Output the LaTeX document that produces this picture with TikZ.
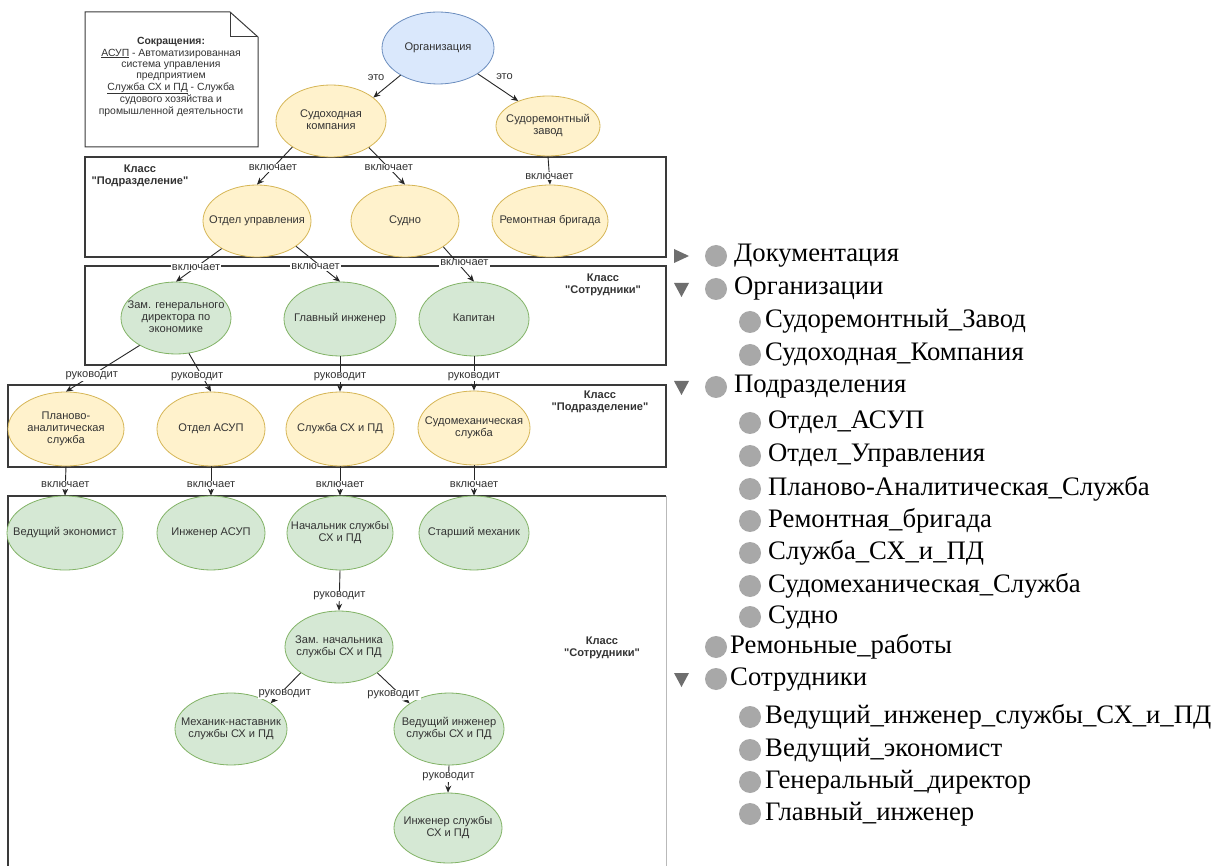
\documentclass[tikz,border=0pt]{standalone}
\usepackage{fontspec}
\setmainfont{Liberation Sans}[Ligatures=TeXOff]
\newfontfamily\treefont{Liberation Serif}
\usetikzlibrary{shapes.geometric,arrows.meta}

\definecolor{bfill}{HTML}{DAE8FC}\definecolor{bdraw}{HTML}{6C8EBF}
\definecolor{yfill}{HTML}{FFF2CC}\definecolor{ydraw}{HTML}{D6B656}
\definecolor{gfill}{HTML}{D5E8D4}\definecolor{gdraw}{HTML}{82B366}
\definecolor{txt}{HTML}{333333}
\definecolor{lnc}{HTML}{262626}
\definecolor{mk}{HTML}{A8A8A8}
\definecolor{tri}{HTML}{6E6E6E}
\definecolor{boxc}{HTML}{3A3A3A}

\newcommand{\ET}[1]{\makebox[0pt]{\begin{tabular}{@{}c@{}}#1\end{tabular}}}
\newcommand{\dfont}{\fontsize{11.1}{11.8}\selectfont}

\begin{document}
\begin{tikzpicture}[x=1pt,y=-1pt,
  ell/.style={ellipse, draw, line width=0.8pt, inner sep=0pt, font=\dfont, text=txt},
  blu/.style={ell, fill=bfill, draw=bdraw},
  yel/.style={ell, fill=yfill, draw=ydraw},
  grn/.style={ell, fill=gfill, draw=gdraw},
  wh/.style 2 args={minimum width=#1pt, minimum height=#2pt},
  classbox/.style={draw=boxc, line width=1.2pt},
  clab/.style={font=\dfont\bfseries, align=center, text=txt, inner sep=0pt},
  elab/.style={font=\dfont, fill=white, inner sep=1pt, text=txt},
  con/.style={draw=lnc, line width=0.9pt, -{Stealth[length=7pt,width=6pt]}},
  tr/.style={font=\treefont\fontsize{26.7}{30}\selectfont, anchor=west, inner sep=0pt, text height=18pt, text depth=6pt},
  dot/.style={circle, fill=mk, minimum size=22pt, inner sep=0pt},
]
\useasboundingbox (0,0) rectangle (1216,866);
\fill[white] (0,0) rectangle (1216,866);

% note
\draw[draw=boxc, line width=1pt, fill=white] (85,12) -- (230,12) -- (258,37) -- (258,147) -- (85,147) -- cycle;
\draw[draw=boxc, line width=1pt] (230,12) -- (230,37) -- (258,37);
\node[font=\fontsize{10.4}{11.3}\selectfont, align=center, text=txt, inner sep=0pt] (note) at (171,77)
 {\textbf{Сокращения:}\\ \underline{АСУП} - Автоматизированная\\ система управления\\ предприятием\\ \underline{Служба СХ и ПД} - Служба\\ судового хозяйства и\\ промышленной деятельности};

% class boxes
\draw[classbox] (85,157) rectangle (666,257);
\draw[classbox] (85,266) rectangle (666,365);
\draw[classbox] (8,385) rectangle (666,467);
\draw[draw=boxc, line width=1.4pt] (8,866) -- (8,496) -- (666,496);
\draw[draw=gray!55, line width=1pt] (666,496) -- (666,866);

\node[clab] (cl1) at (140,176) {Класс\\"Подразделение"};
\node[clab] (cl2) at (603,285) {Класс\\"Сотрудники"};
\node[clab] (cl3) at (600,402) {Класс\\"Подразделение"};
\node[clab] (cl4) at (602,648) {Класс\\"Сотрудники"};

% nodes
\node[blu, wh={112}{72}] (org) at (438,48) {\ET{Организация}};
\node[yel, wh={110}{72}] (sk) at (331,121) {\ET{Судоходная\\компания}};
\node[yel, wh={104}{60}] (sz) at (548,126) {\ET{Судоремонтный\\завод}};

\node[yel, wh={108}{72}] (ou) at (257,221) {\ET{Отдел управления}};
\node[yel, wh={108}{72}] (su) at (405,221) {\ET{Судно}};
\node[yel, wh={116}{72}] (rb) at (550,221) {\ET{Ремонтная бригада}};

\node[grn, wh={110}{72}] (zg) at (176,318) {\ET{Зам. генерального\\директора по\\экономике}};
\node[grn, wh={112}{74}] (gi) at (340,319) {\ET{Главный инженер}};
\node[grn, wh={110}{74}] (kp) at (474,319) {\ET{Капитан}};

\node[yel, wh={116}{74}] (pa) at (66,429) {\ET{Планово-\\аналитическая\\служба}};
\node[yel, wh={108}{74}] (oa) at (211,429) {\ET{Отдел АСУП}};
\node[yel, wh={108}{74}] (sx) at (340,429) {\ET{Служба СХ и ПД}};
\node[yel, wh={112}{74}] (sm) at (474,428) {\ET{Судомеханическая\\служба}};

\node[grn, wh={116}{74}] (ve) at (65,533) {\ET{Ведущий экономист}};
\node[grn, wh={108}{74}] (ia) at (211,533) {\ET{Инженер АСУП}};
\node[grn, wh={106}{74}] (ns) at (340,533) {\ET{Начальник службы\\СХ и ПД}};
\node[grn, wh={110}{74}] (stm) at (474,533) {\ET{Старший механик}};

\node[grn, wh={108}{72}] (zn) at (339,647) {\ET{Зам. начальника\\службы СХ и ПД}};
\node[grn, wh={112}{72}] (mn) at (231,729) {\ET{Механик-наставник\\службы СХ и ПД}};
\node[grn, wh={110}{72}] (vi) at (449,729) {\ET{Ведущий инженер\\службы СХ и ПД}};
\node[grn, wh={108}{70}] (is) at (448,828) {\ET{Инженер службы\\СХ и ПД}};

% connectors
\draw[con] (org.216) -- node[elab, pos=0.1, left=12pt]{это} (sk.29);
\draw[con] (org.327) -- node[elab, pos=0.1, right=13pt]{это} (sz.140);
\draw[con] (sk.214) -- node[elab, pos=0.55]{включает} (ou.north);
\draw[con] (sk.325) -- node[elab, pos=0.55]{включает} (su.north);
\draw[con] (sz.south) -- node[elab, pos=0.7]{включает} (rb.north);

\draw[con] (ou.218) -- node[elab, pos=0.56]{включает} (zg.north);
\draw[con] (ou.327) -- node[elab, pos=0.58, xshift=-6pt]{включает} (gi.north);
\draw[con] (su.326) -- node[elab, pos=0.46, xshift=7pt]{включает} (kp.north);

\draw[con] (zg.217) -- node[elab, pos=0.65]{руководит} (pa.north);
\draw[con] (zg.290) -- node[elab, pos=0.6, xshift=-5pt]{руководит} (oa.north);
\draw[con] (gi.south) -- node[elab, pos=0.58]{руководит} (sx.north);
\draw[con] (kp.south) -- node[elab, pos=0.58]{руководит} (sm.north);

\draw[con] (pa.south) -- node[elab, pos=0.63]{включает} (ve.north);
\draw[con] (oa.south) -- node[elab, pos=0.63]{включает} (ia.north);
\draw[con] (sx.south) -- node[elab, pos=0.63]{включает} (ns.north);
\draw[con] (sm.south) -- node[elab, pos=0.63]{включает} (stm.north);

\draw[con] (ns.south) -- node[elab, pos=0.63]{руководит} (zn.north);
\draw[con] (zn.214) -- node[elab, pos=0.7, xshift=5pt]{руководит} (mn.33);
\draw[con] (zn.326) -- node[elab, pos=0.72, xshift=-7pt]{руководит} (vi.147);
\draw[con] (vi.south) -- node[elab, pos=0.43]{руководит} (is.north);

% tree (right)
\fill[tri] (674,249) -- (689,256) -- (674,263) -- cycle;
\fill[tri] (674,283) -- (689,283) -- (681.5,297) -- cycle;
\fill[tri] (674,381) -- (689,381) -- (681.5,395) -- cycle;
\fill[tri] (674,673) -- (689,673) -- (681.5,687) -- cycle;

\node[dot] (d1) at (716,256) {};
\node[tr] (t1) at (734,256) {Документация};
\node[dot] (d2) at (716,289) {};
\node[tr] (t2) at (734,289) {Организации};
\node[dot] (d3) at (750,322) {};
\node[tr] (t3) at (765,322) {Судоремонтный\_Завод};
\node[dot] (d4) at (750,355) {};
\node[tr] (t4) at (765,355) {Судоходная\_Компания};
\node[dot] (d5) at (716,387) {};
\node[tr] (t5) at (734,387) {Подразделения};
\node[dot] (d6) at (750,423) {};
\node[tr] (t6) at (768,423) {Отдел\_АСУП};
\node[dot] (d7) at (750,456) {};
\node[tr] (t7) at (768,456) {Отдел\_Управления};
\node[dot] (d8) at (750,489) {};
\node[tr] (t8) at (768,489) {Планово-Аналитическая\_Служба};
\node[dot] (d9) at (750,521) {};
\node[tr] (t9) at (768,521) {Ремонтная\_бригада};
\node[dot] (d10) at (750,553) {};
\node[tr] (t10) at (768,553) {Служба\_СХ\_и\_ПД};
\node[dot] (d11) at (750,586) {};
\node[tr] (t11) at (768,586) {Судомеханическая\_Служба};
\node[dot] (d12) at (750,617) {};
\node[tr] (t12) at (768,617) {Судно};
\node[dot] (d13) at (716,647) {};
\node[tr] (t13) at (730,647) {Ремоньные\_работы};
\node[dot] (d14) at (716,679) {};
\node[tr] (t14) at (730,679) {Сотрудники};
\node[dot] (d15) at (750,717) {};
\node[tr] (t15) at (765,717) {Ведущий\_инженер\_службы\_СХ\_и\_ПД};
\node[dot] (d16) at (750,750) {};
\node[tr] (t16) at (765,750) {Ведущий\_экономист};
\node[dot] (d17) at (750,782) {};
\node[tr] (t17) at (765,782) {Генеральный\_директор};
\node[dot] (d18) at (750,814) {};
\node[tr] (t18) at (765,814) {Главный\_инженер};
\end{tikzpicture}
\end{document}
